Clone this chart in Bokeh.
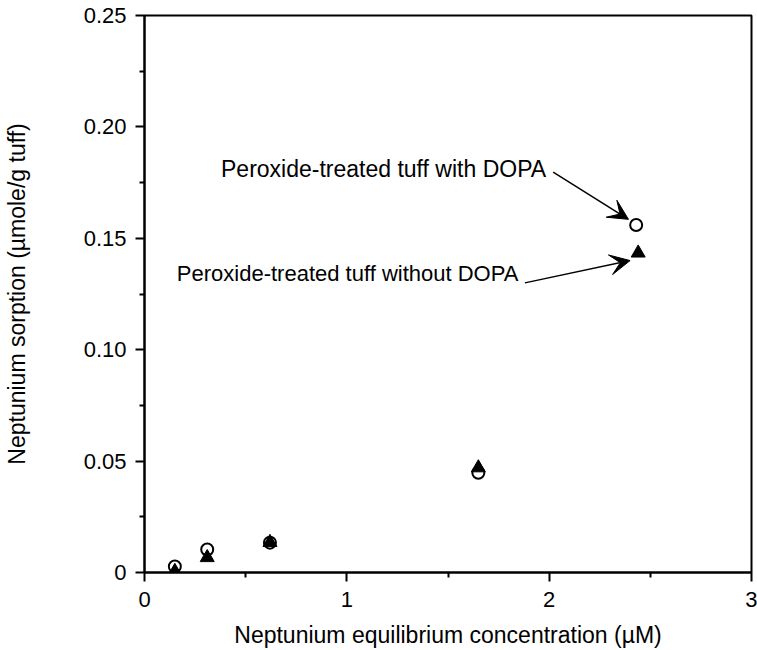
from bokeh.plotting import figure
from bokeh.models import Range1d, FixedTicker, CustomJSTickFormatter, Arrow, VeeHead, Label
from bokeh.embed import file_html
from bokeh.resources import INLINE

# Data
conc_with = [0.15, 0.31, 0.62, 1.65, 2.43]
sorb_with = [0.0027, 0.0103, 0.0134, 0.0448, 0.156]
conc_without = [0.15, 0.31, 0.62, 1.65, 2.44]
sorb_without = [0.0005, 0.0067, 0.0135, 0.047, 0.1434]

x_ticks = [0, 1, 2, 3]
x_minor = [0.5, 1.5, 2.5]
y_ticks = [0, 0.05, 0.10, 0.15, 0.20, 0.25]
y_minor = [0.025, 0.075, 0.125, 0.175, 0.225]

label_with = "Peroxide-treated tuff with DOPA"
label_without = "Peroxide-treated tuff without DOPA"
x_title = "Neptunium equilibrium concentration (\u00b5M)"
y_title = "Neptunium sorption (\u00b5mole/g tuff)"

FONT = "Liberation Sans"

p = figure(width=757, height=650, output_backend="svg", toolbar_location=None,
           x_range=Range1d(0, 3), y_range=Range1d(0, 0.25),
           min_border_left=139, min_border_right=6, min_border_top=15, min_border_bottom=77)

p.xgrid.visible = False
p.ygrid.visible = False
p.outline_line_color = "black"
p.outline_line_width = 2
p.outline_line_alpha = 1
p.background_fill_color = "white"
p.border_fill_color = "white"

for ax in (p.xaxis[0], p.yaxis[0]):
    ax.axis_line_width = 2
    ax.axis_line_color = "black"
    ax.major_tick_line_width = 2
    ax.minor_tick_line_width = 2
    ax.major_tick_out = 9
    ax.major_tick_in = 0
    ax.minor_tick_out = 5
    ax.minor_tick_in = 0
    ax.major_label_text_font = FONT
    ax.major_label_text_font_size = "22px"
    ax.major_label_text_color = "black"
    ax.axis_label_text_font = FONT
    ax.axis_label_text_font_size = "23px"
    ax.axis_label_text_font_style = "normal"
    ax.axis_label_text_color = "black"

p.xaxis[0].major_label_standoff = 10
p.yaxis[0].major_label_standoff = 9
p.xaxis[0].ticker = FixedTicker(ticks=x_ticks, minor_ticks=x_minor)
p.yaxis[0].ticker = FixedTicker(ticks=y_ticks, minor_ticks=y_minor)
p.yaxis[0].formatter = CustomJSTickFormatter(code="return tick == 0 ? '0' : tick.toFixed(2);")
p.xaxis[0].axis_label = x_title
p.yaxis[0].axis_label = y_title
p.xaxis[0].axis_label_standoff = 12
p.yaxis[0].axis_label_standoff = 51

p.scatter(conc_with, sorb_with, marker="circle", size=12, line_color="black",
          line_width=2, fill_color="white")
p.scatter(conc_without, sorb_without, marker="triangle", size=14, line_color="black",
          line_width=1, fill_color="black")

p.add_layout(Label(x=1.985, y=0.181, text=label_with, text_align="right",
                   text_baseline="middle", text_font=FONT, text_font_size="23px",
                   text_color="black"))
p.add_layout(Label(x=1.848, y=0.1344, text=label_without, text_align="right",
                   text_baseline="middle", text_font=FONT, text_font_size="22px",
                   text_color="black"))

p.add_layout(Arrow(end=VeeHead(size=20, fill_color="black", line_color="black"),
                   x_start=2.02, y_start=0.1797, x_end=2.392, y_end=0.1585,
                   line_width=1.5, line_color="black"))
p.add_layout(Arrow(end=VeeHead(size=20, fill_color="black", line_color="black"),
                   x_start=1.88, y_start=0.1300, x_end=2.40, y_end=0.1400,
                   line_width=1.5, line_color="black"))

open("out.html", "w").write(file_html(p, INLINE))
